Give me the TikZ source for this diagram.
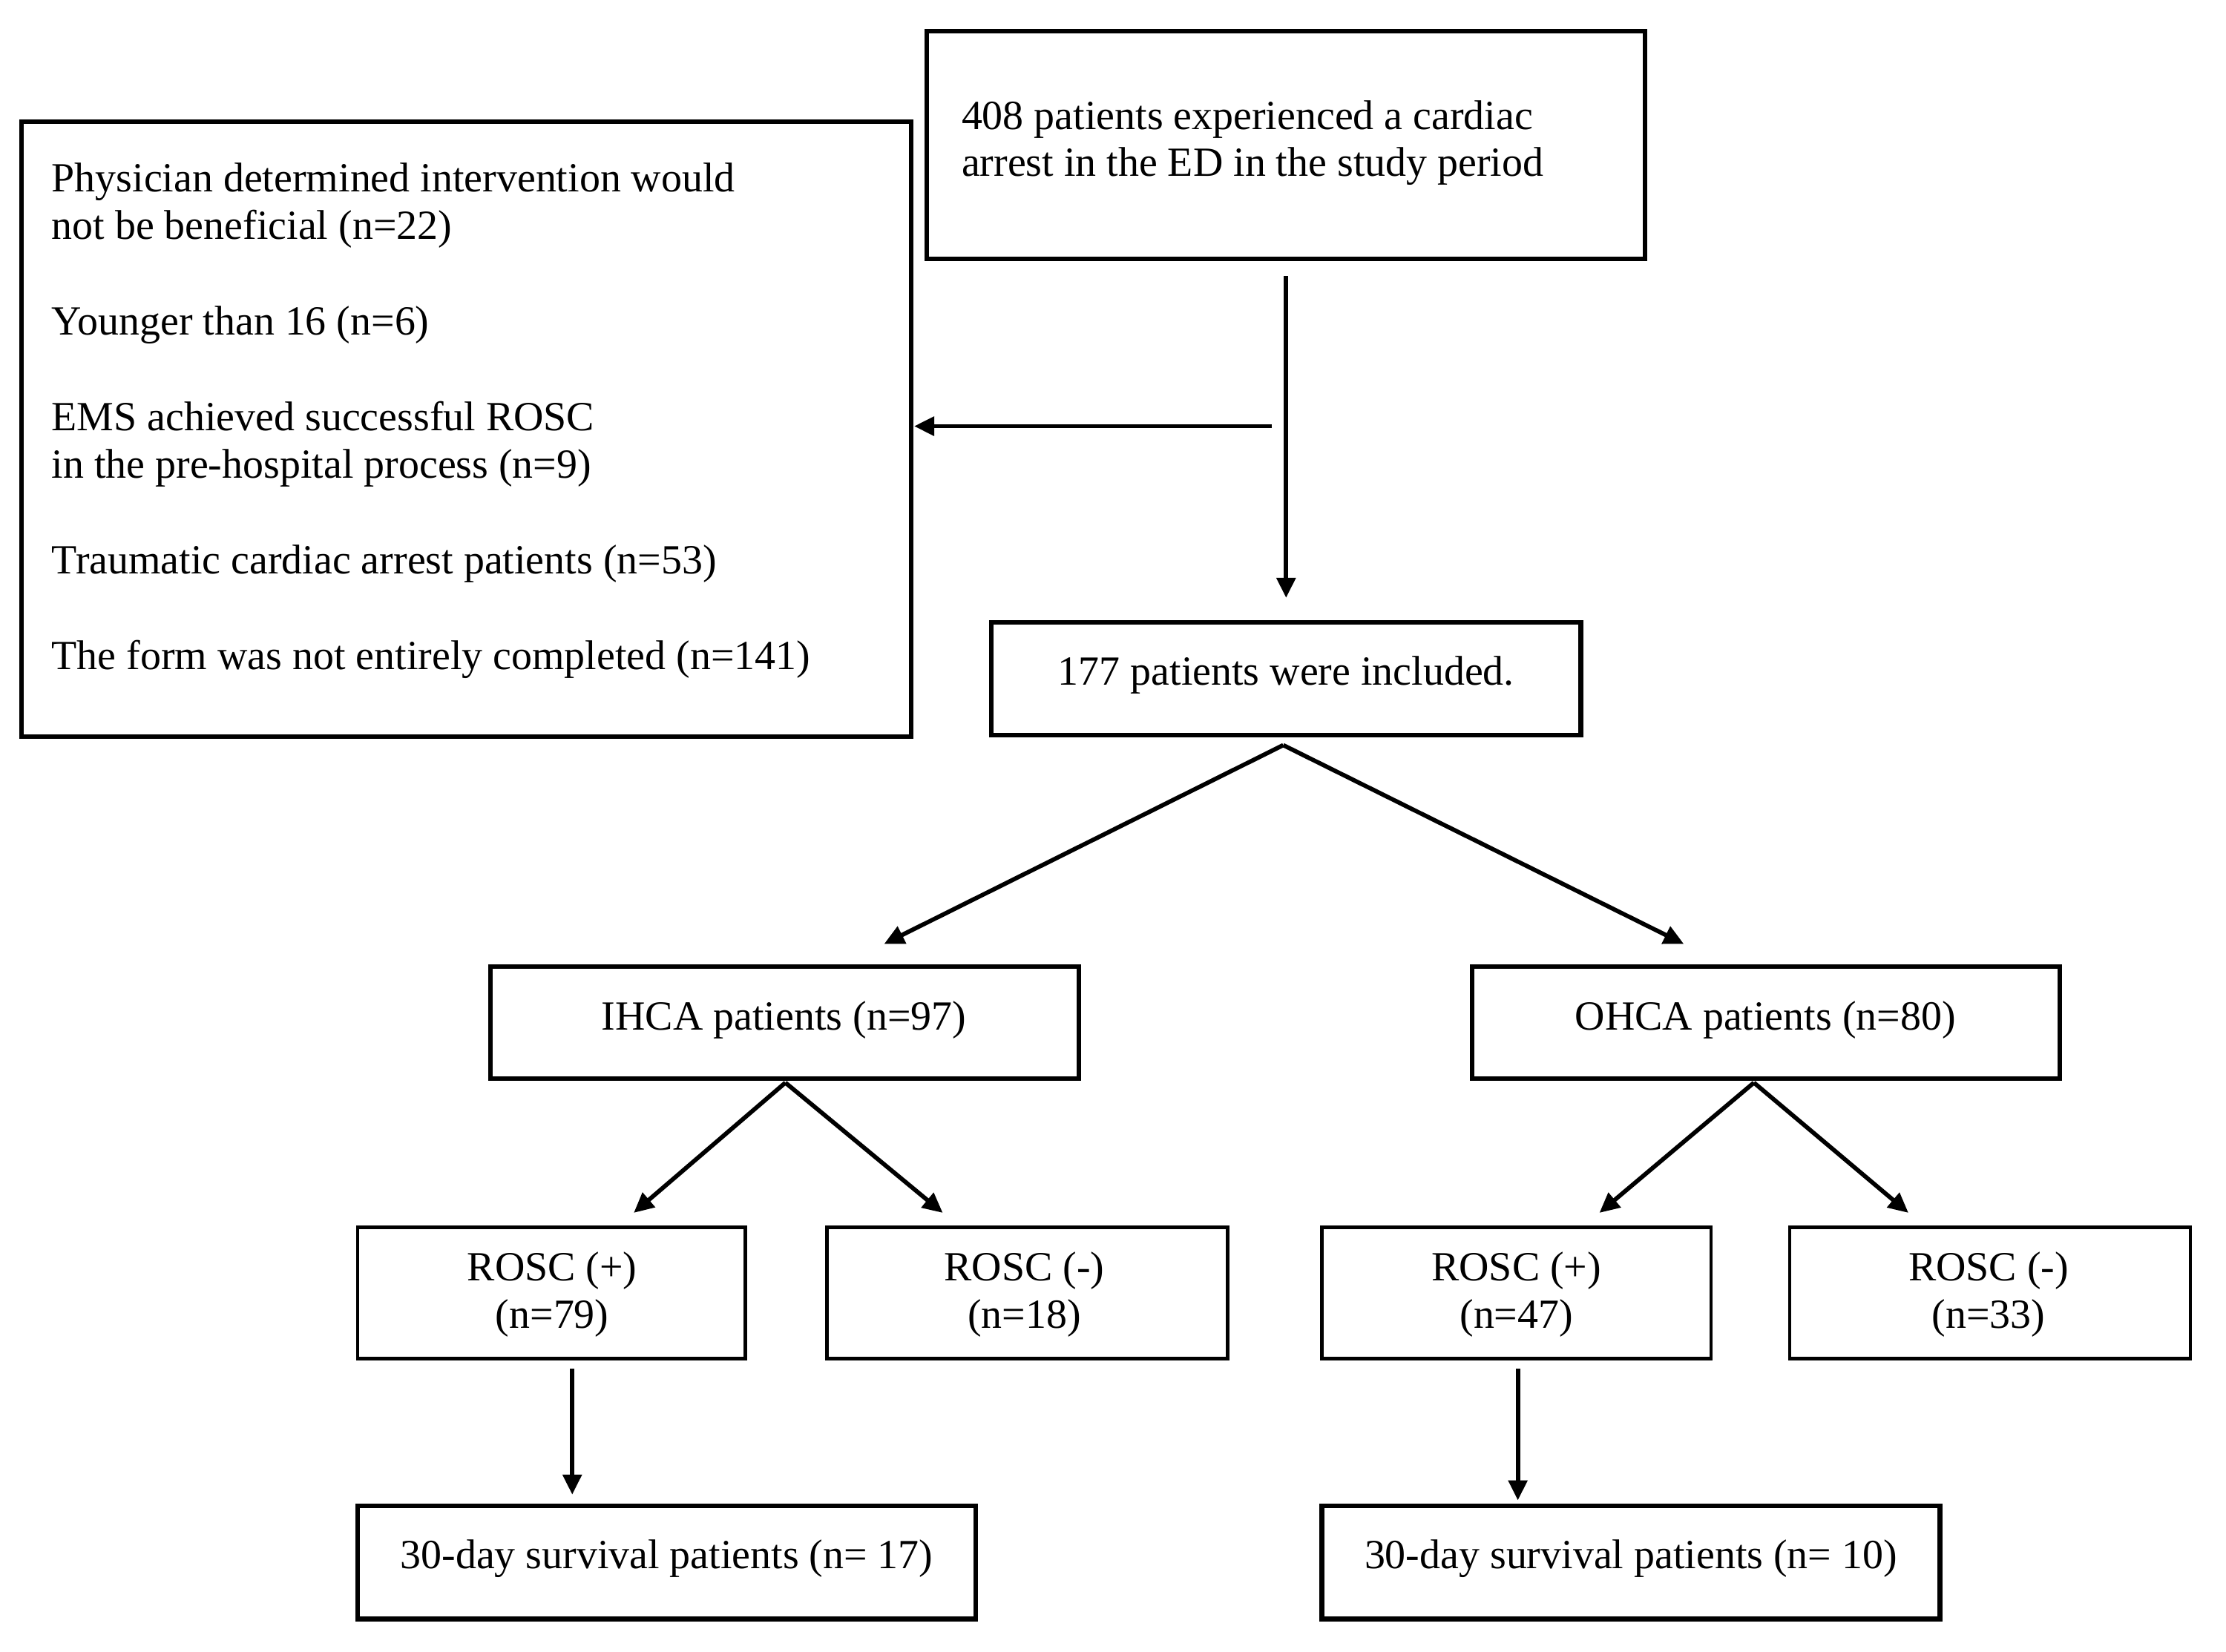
\documentclass[tikz,border=0pt]{standalone}
\usepackage{fontspec}
\setmainfont{Liberation Serif}
\usetikzlibrary{arrows.meta}
\begin{document}
\begin{tikzpicture}[x=1pt,y=-1pt,
  bx/.style={draw,line width=3.2pt},
  sb/.style={draw,line width=2.4pt},
  ar/.style={line width=3pt,-{Triangle[length=14pt,width=13pt]}},
  tx/.style={font=\fontsize{29}{33}\selectfont,inner sep=0pt}]
\useasboundingbox (0,0) rectangle (1556,1155);
\fill[white] (0,0) rectangle (1556,1155);
\draw[bx] (648,22) rectangle (1150,181);
\node[tx,align=left,anchor=west] (t1) at (672,100) {408 patients experienced a cardiac\\arrest in the ED in the study period};
\draw[bx] (15,85) rectangle (637,515);
\node[tx,align=left,anchor=north west] (ex) at (36,114) {Physician determined intervention would\\not be beneficial (n=22)\\[34pt]Younger than 16 (n=6)\\[34pt]EMS achieved successful ROSC\\in the pre-hospital process (n=9)\\[34pt]Traumatic cardiac arrest patients (n=53)\\[34pt]The form was not entirely completed (n=141)};
\draw[bx] (693,435) rectangle (1105,514);
\node[tx] (inc) at (899,472) {177 patients were included.};
\draw[bx] (343,676) rectangle (754,754);
\node[tx] (ih) at (548,713) {IHCA patients (n=97)};
\draw[bx] (1029,676) rectangle (1440,754);
\node[tx] (oh) at (1234,713) {OHCA patients (n=80)};
\draw[sb] (250,858) rectangle (521,950);
\node[tx,align=center] (r1) at (386,905) {ROSC (+)\\(n=79)};
\draw[sb] (578,858) rectangle (858,950);
\node[tx,align=center] (r2) at (716,905) {ROSC (-)\\(n=18)};
\draw[sb] (924,858) rectangle (1196,950);
\node[tx,align=center] (r3) at (1060,905) {ROSC (+)\\(n=47)};
\draw[sb] (1251,858) rectangle (1531,950);
\node[tx,align=center] (r4) at (1390,905) {ROSC (-)\\(n=33)};
\draw[bx] (250,1053) rectangle (682,1132);
\node[tx] (s1) at (466,1090) {30-day survival patients (n= 17)};
\draw[bx] (924,1053) rectangle (1356,1132);
\node[tx] (s2) at (1140,1090) {30-day survival patients (n= 10)};
\coordinate (a0) at (899,193); \coordinate (a1) at (899,418);
\coordinate (h0) at (889,298); \coordinate (h1) at (639,298);
\coordinate (b0) at (897,521); \coordinate (b1) at (618,660); \coordinate (b2) at (1177,660);
\coordinate (c0) at (549,757); \coordinate (c1) at (443,848); \coordinate (c2) at (659,848);
\coordinate (d0) at (1226,757); \coordinate (d1) at (1118,848); \coordinate (d2) at (1334,848);
\coordinate (e0) at (400,957); \coordinate (e1) at (400,1045);
\coordinate (f0) at (1061,957); \coordinate (f1) at (1061,1049);
\draw[ar] (a0) -- (a1);
\draw[ar] (h0) -- (h1);
\draw[ar] (b0) -- (b1); \draw[ar] (b0) -- (b2);
\draw[ar] (c0) -- (c1); \draw[ar] (c0) -- (c2);
\draw[ar] (d0) -- (d1); \draw[ar] (d0) -- (d2);
\draw[ar] (e0) -- (e1); \draw[ar] (f0) -- (f1);
\end{tikzpicture}
\end{document}
